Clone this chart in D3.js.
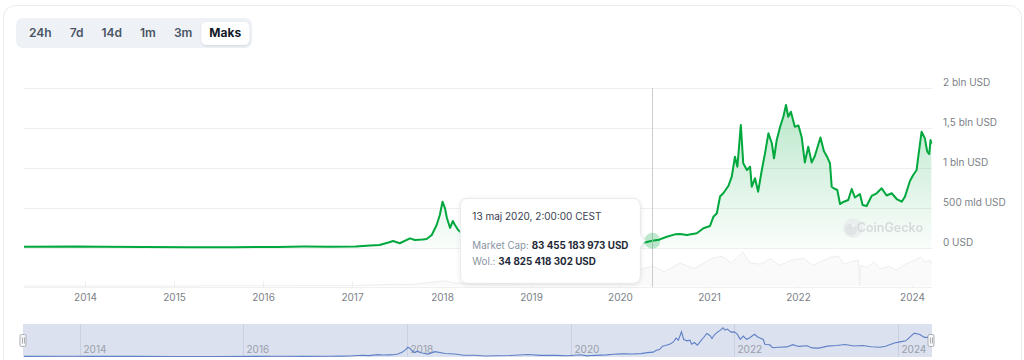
<!DOCTYPE html>
<html><head><meta charset="utf-8">
<script src="https://cdn.jsdelivr.net/npm/d3@7"></script>
<style>
html,body{margin:0;padding:0;background:#fff;}
svg{display:block;font-family:Inter,"Noto Sans",sans-serif;}
</style></head><body>
<svg id="c" width="1024" height="360"></svg>
<script>
// ---------- DATA ----------
const capDates = ["2013-04-28","2013-11-30","2014-03-01","2014-09-01","2015-03-01","2015-09-01","2016-03-01","2016-06-15","2016-10-01","2017-01-15","2017-03-15","2017-04-22","2017-05-25","2017-06-17","2017-07-14","2017-08-25","2017-09-14","2017-10-15","2017-11-01","2017-11-22","2017-12-12","2017-12-25","2018-01-05","2018-01-15","2018-01-23","2018-02-05","2018-02-16","2018-02-25","2018-03-10","2018-04-05","2018-05-06","2018-06-20","2018-08-01","2018-09-12","2018-11-05","2018-12-14","2019-02-01","2019-04-05","2019-06-25","2019-08-20","2019-10-25","2019-12-18","2020-02-14","2020-03-16","2020-03-31","2020-04-20","2020-05-13","2020-06-10","2020-07-11","2020-08-14","2020-09-04","2020-10-01","2020-11-11","2020-12-08","2021-01-04","2021-01-18","2021-02-01","2021-02-14","2021-02-28","2021-03-20","2021-04-03","2021-04-16","2021-04-26","2021-05-10","2021-05-20","2021-06-04","2021-06-17","2021-06-24","2021-07-07","2021-07-20","2021-08-04","2021-08-17","2021-08-31","2021-09-14","2021-09-23","2021-10-04","2021-10-18","2021-10-31","2021-11-11","2021-11-20","2021-12-01","2021-12-17","2022-01-01","2022-01-14","2022-01-27","2022-02-10","2022-02-24","2022-03-09","2022-04-01","2022-04-15","2022-04-28","2022-05-10","2022-05-17","2022-05-26","2022-06-09","2022-06-20","2022-07-15","2022-08-23","2022-09-19","2022-10-14","2022-11-22","2022-12-13","2023-01-13","2023-02-21","2023-04-01","2023-05-10","2023-06-18","2023-07-27","2023-09-04","2023-10-13","2023-11-07","2023-12-16","2024-01-10","2024-02-05","2024-02-17","2024-03-14","2024-04-08","2024-04-26","2024-05-11","2024-05-21","2024-05-27"];
// market cap, billions USD
const marketCap = [8,14,9,6,4,3,7,11,9,12,25,31,60,82,53,115,94,100,107,157,282,408,574,495,370,245,332,282,219,150,300,190,160,75,80,33,42,65,120,70,72,48,105,42,60,70,83.46,98,135,165,170,157,178,241,270,386,429,640,683,771,888,1139,1013,1536,1056,972,1013,762,868,700,972,1181,1432,1307,1118,1348,1515,1640,1787,1640,1703,1515,1530,1386,1066,1264,1066,1147,1379,1210,1139,1056,762,742,721,545,571,596,734,627,671,533,520,646,680,742,652,680,608,574,637,834,909,972,1129,1452,1369,1201,1172,1348,1300];

const volDates = ["2013-04-28","2015-01-01","2016-06-01","2017-01-01","2017-06-15","2017-09-01","2018-01-10","2018-03-01","2018-06-01","2018-12-01","2019-03-01","2019-07-01","2019-10-01","2020-01-15","2020-03-15","2020-05-13","2020-07-01","2020-09-05","2020-11-01","2021-01-11","2021-02-22","2021-04-01","2021-05-19","2021-06-15","2021-08-01","2021-09-07","2021-10-15","2021-12-04","2022-01-22","2022-03-01","2022-05-12","2022-06-14","2022-07-20","2022-09-15","2022-11-09","2022-11-20","2022-11-24","2023-01-15","2023-03-12","2023-05-01","2023-07-01","2023-09-01","2023-11-10","2024-01-12","2024-03-05","2024-04-13","2024-05-21","2024-05-27"];
// volume, billions USD
const volume = [0.05,0.1,0.5,0.5,3,2.5,9,5,4,5,9,14,11,18,28,34.8,25,40,30,48,52,40,59,40,38,48,36,45,48,36,50,52,38,42,45,0,36,32,42,30,34,28,38,44,50,42,45,38];

const yTickValues = [0,500,1000,1500,2000];
const yTickLabels = ["0 USD","500 mld USD","1 bln USD","1,5 bln USD","2 bln USD"];
const xTickYears = [2014,2015,2016,2017,2018,2019,2020,2021,2022,2024];
const navTickYears = [2014,2016,2018,2020,2022,2024];
const rangeButtons = ["24h","7d","14d","1m","3m","Maks"];
const selectedRange = "Maks";
const hoverDate = "2020-05-13";
const hoverCap = 83455183973;
const hoverVol = 34825418302;
const tooltipTitle = "13 maj 2020, 2:00:00 CEST";
const startDate = "2013-04-28", endDate = "2024-06-01";

// ---------- SETUP ----------
const parse = d3.utcParse("%Y-%m-%d");
const capData = capDates.map((d,i)=>({date:parse(d), v:marketCap[i]}));
const volData = volDates.map((d,i)=>({date:parse(d), v:volume[i]}));
const svg = d3.select("#c");
const green = "#00a83e";
const plotL = 24, plotR = 932, plotT = 88, plotB = 247.5;

// card
svg.append("rect").attr("x",3.5).attr("y",5.5).attr("width",1018).attr("height",380)
  .attr("rx",12).attr("fill","#fff").attr("stroke","#e8ebf0");

const defs = svg.append("defs");
const sh = defs.append("filter").attr("id","sh").attr("x","-20%").attr("y","-30%").attr("width","140%").attr("height","170%");
sh.append("feDropShadow").attr("dx",0).attr("dy",1).attr("stdDeviation",1.2).attr("flood-color","#000").attr("flood-opacity",0.12);
const sh2 = defs.append("filter").attr("id","sh2").attr("x","-20%").attr("y","-20%").attr("width","140%").attr("height","140%");
sh2.append("feDropShadow").attr("dx",0).attr("dy",1).attr("stdDeviation",2).attr("flood-color","#000").attr("flood-opacity",0.10);

// range buttons
const bg = svg.append("g");
const grpRect = bg.append("rect").attr("x",16).attr("y",18).attr("height",30).attr("rx",7).attr("fill","#eef2f7");
let bx = 20;
rangeButtons.forEach(lbl=>{
  const sel = lbl===selectedRange;
  const t = bg.append("text").text(lbl).attr("y",34).attr("dominant-baseline","middle")
    .attr("text-anchor","middle").attr("font-size",12).attr("font-weight",sel?700:600)
    .attr("fill",sel?"#111827":"#4b5563");
  const w = t.node().getComputedTextLength() + 18;
  if(sel){
    bg.insert("rect","text").attr("x",bx).attr("y",22).attr("width",w-2).attr("height",23)
      .attr("rx",5).attr("fill","#fff").attr("filter","url(#sh)");
    t.attr("x",bx+(w-2)/2);
  } else t.attr("x",bx+w/2);
  bx += w;
});
grpRect.attr("width",bx+1-16);

// scales
const x = d3.scaleUtc()
  .domain([parse(startDate), parse("2022-06-20"), parse("2024-01-01"), parse(endDate)])
  .range([plotL, 840, 912, plotR]);
const y = d3.scaleLinear().domain([0,2000]).range([plotB, plotT]);
const yv = d3.scaleLinear().domain([0,70]).range([286, 245.8]);
const xn = d3.scaleUtc().domain([parse(startDate), parse(endDate)]).range([plotL, plotR]);
const yn = d3.scaleLinear().domain([0,2000]).range([356.5, 324.3]);

// gridlines
svg.append("g").selectAll("line").data(yTickValues).join("line")
  .attr("x1",plotL).attr("x2",plotR).attr("y1",d=>Math.round(y(d))+0.5).attr("y2",d=>Math.round(y(d))+0.5)
  .attr("stroke","#efefef");
svg.append("g").selectAll("text").data(yTickValues).join("text")
  .attr("x",943).attr("y",d=>y(d)-4.5).attr("dominant-baseline","middle")
  .attr("font-size",10).attr("fill","#7b7f86").text((d,i)=>yTickLabels[i]);

// x axis
svg.append("line").attr("x1",plotL).attr("x2",plotR).attr("y1",287.5).attr("y2",287.5).attr("stroke","#f0f0f0");
const xt = svg.append("g").selectAll("g").data(xTickYears).join("g")
  .attr("transform",d=>`translate(${Math.round(x(Date.UTC(d,0,1)))+0.5},0)`);
xt.append("line").attr("y1",281).attr("y2",288).attr("stroke","#eeeeee");
xt.append("text").attr("y",298.5).attr("text-anchor","middle").attr("dominant-baseline","middle")
  .attr("font-size",10).attr("fill","#7b7f86").text(d=>d);

// volume (very faint)
svg.append("path").datum(volData)
  .attr("d", d3.area().x(d=>x(d.date)).y0(286).y1(d=>yv(d.v)))
  .attr("fill","#fafafb");
svg.append("path").datum(volData)
  .attr("d", d3.line().x(d=>x(d.date)).y(d=>yv(d.v)))
  .attr("fill","none").attr("stroke","#eceef1").attr("stroke-width",1);

// area gradient
const grad = defs.append("linearGradient").attr("id","g1").attr("gradientUnits","userSpaceOnUse")
  .attr("x1",0).attr("y1",plotT).attr("x2",0).attr("y2",plotB);
grad.append("stop").attr("offset","0%").attr("stop-color",green).attr("stop-opacity",0.3);
grad.append("stop").attr("offset","100%").attr("stop-color",green).attr("stop-opacity",0.02);

svg.append("path").datum(capData)
  .attr("d", d3.area().x(d=>x(d.date)).y0(y(0)).y1(d=>y(d.v)))
  .attr("fill","url(#g1)");

// watermark
const wm = svg.append("g").attr("opacity",0.6);
wm.append("circle").attr("cx",853).attr("cy",228).attr("r",10).attr("fill","#e6e8eb");
wm.append("circle").attr("cx",851).attr("cy",229.5).attr("r",6).attr("fill","#d3d6da");
wm.append("circle").attr("cx",853.5).attr("cy",225.5).attr("r",1.6).attr("fill","#f5f5f5");
wm.append("text").attr("x",923).attr("y",228.5).attr("text-anchor","end").attr("dominant-baseline","middle")
  .attr("font-size",12.5).attr("font-weight",600).attr("fill","#c3c6cb").text("CoinGecko");

// line
svg.append("path").datum(capData)
  .attr("d", d3.line().x(d=>x(d.date)).y(d=>y(d.v)))
  .attr("fill","none").attr("stroke",green).attr("stroke-width",2).attr("stroke-linejoin","round");

// crosshair + hover
const hx = x(parse(hoverDate)), hy = y(hoverCap/1e9);
svg.append("line").attr("x1",Math.round(hx)+0.5).attr("x2",Math.round(hx)+0.5).attr("y1",plotT).attr("y2",287)
  .attr("stroke","#cccccc");
svg.append("circle").attr("cx",hx).attr("cy",hy).attr("r",8).attr("fill",green).attr("fill-opacity",0.25);

// tooltip
const fmt = d3.formatLocale({decimal:",",thousands:" ",grouping:[3],currency:["",""]}).format(",d");
const tw = 180, th = 85, tr = hx - 12, tl = tr - tw, tt = hy - th/2;
const tg = svg.append("g");
tg.append("path").attr("d",
  `M${tl+8},${tt} H${tr-8} Q${tr},${tt} ${tr},${tt+8} V${hy-6} L${tr+5},${hy} L${tr},${hy+6} V${tt+th-8} Q${tr},${tt+th} ${tr-8},${tt+th} H${tl+8} Q${tl},${tt+th} ${tl},${tt+th-8} V${tt+8} Q${tl},${tt} ${tl+8},${tt} Z`)
  .attr("fill","#fff").attr("stroke","#e6e8ec").attr("filter","url(#sh2)");
tg.append("text").attr("x",tl+12).attr("y",tt+19).attr("dominant-baseline","middle")
  .attr("font-size",10).attr("fill","#374151").text(tooltipTitle);
const l1 = tg.append("text").attr("x",tl+12).attr("y",tt+47.5).attr("dominant-baseline","middle").attr("font-size",9.8);
l1.append("tspan").attr("fill","#8a94a3").text("Market Cap: ");
l1.append("tspan").attr("fill","#1f2937").attr("font-weight",700).text(fmt(hoverCap)+" USD");
const l2 = tg.append("text").attr("x",tl+12).attr("y",tt+64).attr("dominant-baseline","middle").attr("font-size",9.8);
l2.append("tspan").attr("fill","#8a94a3").text("Wol.: ");
l2.append("tspan").attr("fill","#1f2937").attr("font-weight",700).text(fmt(hoverVol)+" USD");

// navigator
svg.append("rect").attr("x",plotL-1).attr("y",324).attr("width",plotR-plotL+1).attr("height",33).attr("fill","#dbe1ee");
const nt = svg.append("g").selectAll("g").data(navTickYears).join("g")
  .attr("transform",d=>`translate(${Math.round(xn(Date.UTC(d,0,1)))+0.5},0)`);
nt.append("line").attr("y1",324).attr("y2",357).attr("stroke","#c9d0df");
nt.append("text").attr("x",3).attr("y",350).attr("dominant-baseline","middle")
  .attr("font-size",10).attr("fill","#9aa0ab").text(d=>d);
svg.append("path").datum(capData)
  .attr("d", d3.line().x(d=>xn(d.date)).y(d=>yn(d.v)))
  .attr("fill","none").attr("stroke","#5f80c6").attr("stroke-width",1.1);
[plotL-1, plotR-1].forEach(hxp=>{
  const g = svg.append("g").attr("transform",`translate(${hxp},0)`);
  g.append("rect").attr("x",-3).attr("y",334.5).attr("width",6).attr("height",12).attr("rx",1.5)
    .attr("fill","#f7f7f7").attr("stroke","#a9adb5");
  g.append("line").attr("x1",-0.5).attr("x2",-0.5).attr("y1",337.5).attr("y2",343.5).attr("stroke","#a9adb5");
  g.append("line").attr("x1",1.5).attr("x2",1.5).attr("y1",337.5).attr("y2",343.5).attr("stroke","#a9adb5");
});
</script>
</body></html>
